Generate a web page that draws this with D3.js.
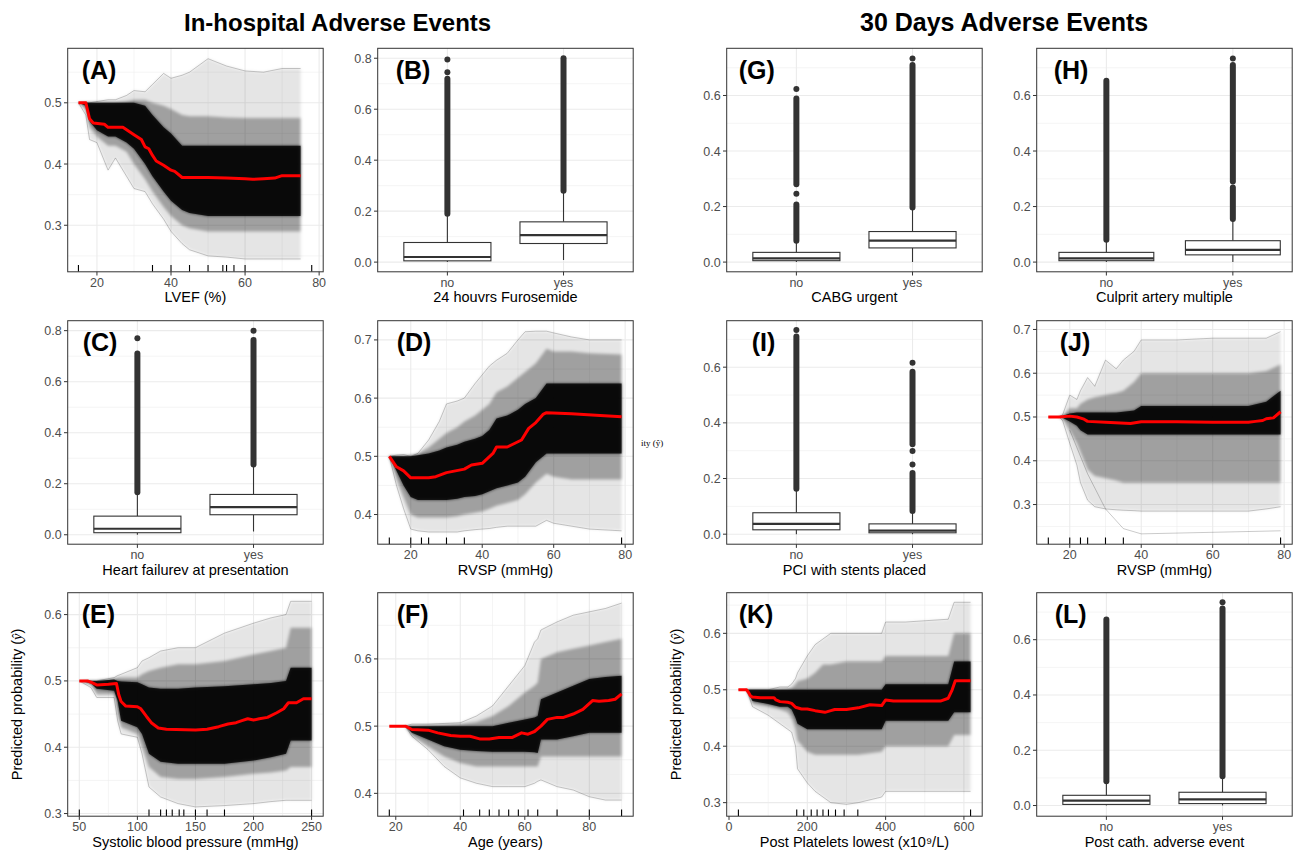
<!DOCTYPE html>
<html>
<head>
<meta charset="utf-8">
<script src="https://cdn.jsdelivr.net/npm/d3@7"></script>
<style>
  body { margin: 0; background: #fff; }
  text { font-family: "Liberation Sans", Arial, sans-serif; }
</style>
</head>
<body>
<div id="chart"></div>
<script>
////////////////// data ////////////////////////////////////

const groupTitles = ["In-hospital Adverse Events", "30 Days Adverse Events"];
const boxCats = ["no", "yes"];

// --- ICE panels: envelopes of the individual curves + red average curve ---
// (A) LVEF
const A_gridX  = [15, 17, 18, 20, 23, 25, 28, 30, 33, 35, 38, 40, 43, 45, 50, 55, 60, 65, 70, 75];
const A_max    = [.5, .5, .5, .502, .505, .505, .512, .52, .518, .53, .548, .54, .545, .55, .572, .56, .552, .55, .556, .556];
const A_upMid  = [.5, .5, .5, .5, .5, .5, .502, .505, .505, .5, .495, .49, .48, .478, .478, .476, .475, .475, .475, .475];
const A_upCore = [.5, .5, .5, .5, .5, .5, .5, .5, .495, .48, .46, .45, .43, .43, .43, .43, .43, .43, .43, .43];
const A_loCore = [.5, .495, .47, .455, .445, .445, .435, .425, .4, .38, .355, .34, .325, .32, .315, .315, .315, .315, .315, .315];
const A_loMid  = [.5, .49, .46, .445, .43, .43, .42, .4, .375, .355, .33, .315, .3, .295, .29, .29, .29, .29, .29, .29];
const A_min    = [.5, .48, .44, .435, .39, .41, .38, .36, .355, .335, .31, .29, .27, .26, .25, .248, .245, .245, .245, .245];
const A_redX   = [15, 17, 18, 19, 22, 23, 27, 30, 32, 33, 34, 35, 36, 38, 40, 41, 43, 50, 55, 60, 62, 65, 68, 70, 75];
const A_red    = [.5, .5, .474, .467, .465, .46, .46, .448, .44, .428, .425, .414, .405, .398, .39, .388, .378, .378, .377, .376, .375, .376, .377, .381, .381];
const A_rug    = [15, 35, 40, 45, 50, 54, 55, 57, 60, 78];

// (D) RVSP, in-hospital
const D_gridX  = [14, 16, 18, 20, 22, 25, 28, 30, 33, 35, 38, 40, 42, 44, 47, 50, 52, 55, 58, 60, 65, 70, 79];
const D_max    = [.5, .502, .503, .5, .505, .528, .56, .59, .595, .6, .625, .64, .655, .665, .677, .7, .714, .715, .715, .712, .705, .7, .7];
const D_upMid  = [.5, .5, .5, .502, .505, .515, .53, .54, .55, .56, .57, .58, .59, .61, .62, .635, .645, .66, .685, .68, .68, .677, .675];
const D_upCore = [.5, .5, .5, .5, .502, .505, .51, .515, .52, .525, .53, .535, .545, .565, .57, .58, .59, .6, .625, .625, .625, .625, .625];
const D_loCore = [.5, .475, .45, .43, .425, .425, .425, .425, .427, .43, .432, .435, .44, .445, .45, .455, .465, .49, .505, .505, .505, .505, .505];
const D_loMid  = [.5, .46, .43, .4, .395, .395, .395, .395, .397, .4, .403, .405, .41, .415, .42, .425, .435, .455, .47, .465, .46, .46, .46];
const D_min    = [.5, .45, .41, .375, .372, .37, .37, .37, .37, .372, .374, .375, .376, .378, .38, .38, .38, .38, .39, .385, .38, .375, .372];
const D_redX   = [14, 16, 18, 20, 25, 27, 30, 35, 37, 40, 43, 44, 47, 49, 51, 53, 55, 57, 58, 65, 73, 79];
const D_red    = [.5, .482, .475, .463, .463, .465, .472, .478, .485, .488, .505, .516, .516, .522, .528, .548, .558, .572, .575, .573, .57, .568];
const D_rug    = [14, 20, 23, 25, 30, 35, 79];

// (E) Systolic blood pressure
const E_gridX  = [50, 60, 65, 80, 83, 86, 100, 104, 110, 120, 135, 150, 175, 200, 215, 228, 232, 250];
const E_max    = [.5, .5, .5, .505, .508, .51, .52, .53, .535, .545, .55, .55, .572, .587, .595, .6, .62, .62];
const E_upMid  = [.5, .5, .5, .503, .505, .505, .505, .51, .515, .52, .525, .525, .53, .54, .545, .55, .58, .58];
const E_upCore = [.5, .5, .5, .502, .5, .499, .498, .495, .49, .488, .488, .49, .492, .495, .497, .5, .52, .52];
const E_loCore = [.5, .497, .488, .485, .47, .44, .43, .42, .39, .378, .375, .375, .375, .38, .385, .39, .41, .41];
const E_loMid  = [.5, .495, .48, .48, .45, .43, .42, .4, .37, .355, .352, .352, .355, .36, .362, .365, .37, .37];
const E_min    = [.5, .49, .475, .475, .44, .42, .415, .39, .34, .325, .315, .31, .312, .315, .318, .32, .32, .32];
const E_redX   = [50, 57, 60, 65, 75, 82, 84, 86, 90, 100, 103, 108, 112, 118, 125, 150, 160, 170, 178, 185, 190, 195, 200, 205, 212, 220, 226, 230, 237, 240, 243, 250];
const E_red    = [.5, .5, .498, .494, .495, .496, .479, .469, .462, .461, .458, .446, .437, .429, .427, .426, .427, .431, .435, .437, .44, .443, .441, .443, .445, .452, .458, .467, .467, .47, .473, .473];
const E_rug    = [50, 110, 120, 125, 130, 136, 140, 150, 160, 175, 250];

// (F) Age
const F_gridX  = [18, 23, 25, 30, 35, 40, 45, 50, 55, 60, 63, 64, 65, 70, 75, 80, 85, 90];
const F_max    = [.5, .5, .503, .503, .504, .505, .515, .53, .56, .59, .625, .63, .643, .655, .665, .67, .675, .683];
const F_upMid  = [.5, .5, .5, .501, .502, .503, .506, .515, .53, .55, .56, .565, .6, .61, .615, .62, .625, .63];
const F_upCore = [.5, .5, .5, .5, .5, .5, .5, .5, .505, .51, .513, .515, .54, .55, .56, .57, .573, .575];
const F_loCore = [.5, .5, .49, .48, .47, .465, .463, .462, .462, .462, .461, .46, .48, .48, .485, .49, .49, .49];
const F_loMid  = [.5, .5, .485, .47, .455, .445, .44, .44, .44, .44, .44, .44, .455, .455, .455, .455, .455, .455];
const F_min    = [.5, .5, .485, .465, .44, .423, .415, .41, .41, .41, .415, .418, .42, .41, .405, .395, .39, .39];
const F_redX   = [18, 23, 25, 30, 33, 37, 40, 43, 46, 49, 52, 56, 59, 61, 63, 65, 67, 70, 72, 75, 78, 81, 83, 86, 88, 90];
const F_red    = [.5, .5, .495, .494, .49, .486, .485, .485, .481, .481, .483, .483, .49, .488, .492, .5, .51, .513, .513, .518, .525, .538, .537, .538, .54, .548];
const F_rug    = [18, 41, 46, 49, 52, 55, 58, 61, 64, 70, 80, 90];

// (J) RVSP, 30 days
const J_gridX  = [14, 17, 18, 20, 22, 23, 25, 27, 30, 33, 35, 38, 40, 45, 50, 60, 70, 75, 79];
const J_max    = [.5, .5, .505, .55, .54, .56, .59, .57, .63, .61, .63, .65, .676, .676, .676, .68, .68, .68, .695];
const J_upMid  = [.5, .5, .502, .52, .52, .53, .54, .545, .55, .555, .56, .58, .6, .6, .6, .6, .6, .605, .62];
const J_upCore = [.5, .5, .502, .508, .51, .51, .51, .51, .51, .51, .512, .515, .525, .525, .525, .525, .525, .535, .56];
const J_loCore = [.5, .5, .498, .49, .48, .47, .46, .46, .46, .46, .46, .46, .46, .46, .46, .46, .46, .46, .46];
const J_loMid  = [.5, .5, .495, .47, .44, .42, .38, .365, .36, .355, .35, .35, .35, .35, .35, .35, .35, .35, .35];
const J_min    = [.5, .5, .492, .44, .39, .35, .31, .295, .29, .288, .287, .286, .285, .285, .285, .285, .285, .29, .295];
const J_lowX   = [20, 25, 30, 35, 40, 79];
const J_low    = [.47, .37, .29, .245, .233, .24];
const J_redX   = [14, 17, 20, 22, 24, 25, 30, 37, 40, 50, 60, 70, 72, 74, 75, 77, 79];
const J_red    = [.5, .5, .502, .5, .495, .49, .488, .485, .489, .489, .488, .488, .49, .492, .496, .498, .512];
const J_rug    = [14, 20, 23, 25, 30, 35, 79];

// (K) Post platelets lowest
const K_gridX  = [24, 45, 60, 100, 130, 150, 160, 170, 175, 200, 220, 240, 260, 300, 330, 390, 400, 450, 560, 575, 617];
const K_max    = [.5, .5, .5, .5, .505, .505, .51, .52, .53, .56, .58, .59, .6, .6, .6, .6, .62, .62, .625, .655, .655];
const K_upMid  = [.5, .5, .5, .5, .501, .502, .503, .51, .515, .52, .53, .545, .545, .55, .55, .55, .56, .56, .56, .6, .6];
const K_upCore = [.5, .5, .5, .5, .5, .5, .5, .5, .5, .5, .5, .5, .5, .5, .5, .5, .51, .51, .51, .55, .55];
const K_loCore = [.5, .5, .48, .475, .47, .47, .465, .45, .44, .43, .43, .43, .43, .43, .43, .43, .445, .445, .445, .46, .46];
const K_loMid  = [.5, .5, .475, .47, .465, .46, .45, .43, .41, .39, .385, .385, .385, .385, .385, .39, .4, .4, .4, .42, .42];
const K_min    = [.5, .5, .47, .455, .44, .43, .425, .4, .36, .335, .32, .31, .3, .297, .3, .31, .32, .32, .32, .32, .32];
const K_redX   = [24, 45, 50, 55, 60, 80, 115, 120, 130, 150, 160, 170, 185, 200, 220, 245, 260, 270, 300, 330, 360, 390, 400, 420, 540, 560, 570, 578, 617];
const K_red    = [.5, .5, .495, .489, .487, .486, .486, .482, .479, .478, .476, .469, .466, .466, .463, .46, .463, .465, .465, .468, .4735, .472, .482, .48, .48, .485, .5, .516, .516];
const K_rug    = [24, 173, 191, 210, 225, 240, 254, 272, 294, 329, 617];

// --- box plots: [lower whisker, Q1, median, Q3, upper whisker], outlier runs, single outliers ---
const B_stats = [[0.0, 0.005, 0.02, 0.077, 0.185], [0.008, 0.073, 0.106, 0.158, 0.274]];
const B_runs  = [[[0.19, 0.72]], [[0.28, 0.80]]];
const B_pts   = [[0.745, 0.795], []];
const C_stats = [[0.0, 0.008, 0.0235, 0.073, 0.165], [0.013, 0.0785, 0.108, 0.158, 0.27]];
const C_runs  = [[[0.167, 0.71]], [[0.275, 0.763]]];
const C_pts   = [[0.77], [0.80]];
const G_stats = [[0.0, 0.005, 0.013, 0.035, 0.075], [0.0, 0.051, 0.077, 0.11, 0.195]];
const G_runs  = [[[0.077, 0.207], [0.28, 0.589]], [[0.197, 0.71]]];
const G_pts   = [[0.246, 0.623], [0.733]];
const H_stats = [[0.0, 0.005, 0.013, 0.035, 0.078], [0.0, 0.026, 0.044, 0.077, 0.153]];
const H_runs  = [[[0.08, 0.653]], [[0.155, 0.269], [0.29, 0.71]]];
const H_pts   = [[], [0.733]];
const I_stats = [[0.0, 0.0157, 0.037, 0.077, 0.16], [0.0, 0.005, 0.013, 0.037, 0.082]];
const I_runs  = [[[0.163, 0.71]], [[0.083, 0.22], [0.323, 0.584]]];
const I_pts   = [[0.734], [0.25, 0.299, 0.616]];
const L_stats = [[0.0, 0.004, 0.018, 0.037, 0.085], [0.0, 0.007, 0.022, 0.048, 0.103]];
const L_runs  = [[[0.088, 0.673]], [[0.106, 0.713]]];
const L_pts   = [[], [0.735]];

const xTitles = {
  A: "LVEF (%)", B: "24 houvrs Furosemide", C: "Heart failurev at presentation",
  D: "RVSP (mmHg)", E: "Systolic blood pressure (mmHg)", F: "Age (years)",
  G: "CABG urgent", H: "Culprit artery multiple", I: "PCI with stents placed",
  J: "RVSP (mmHg)", K: "Post Platelets lowest (x10\u2079/L)", L: "Post cath. adverse event"
};

////////////////// layout ////////////////////////////////////

const W = 1293, H = 851;
const colX = [67.7, 377.7, 726.7, 1036.7];
const rowY = [48.3, 320.7, 592.7];
const pw = 255.5, ph = 223.5;

const ice = {
  A: {x: A_gridX, max: A_max, upMid: A_upMid, upCore: A_upCore, loCore: A_loCore, loMid: A_loMid, min: A_min, redX: A_redX, red: A_red, rug: A_rug},
  D: {x: D_gridX, max: D_max, upMid: D_upMid, upCore: D_upCore, loCore: D_loCore, loMid: D_loMid, min: D_min, redX: D_redX, red: D_red, rug: D_rug},
  E: {x: E_gridX, max: E_max, upMid: E_upMid, upCore: E_upCore, loCore: E_loCore, loMid: E_loMid, min: E_min, redX: E_redX, red: E_red, rug: E_rug},
  F: {x: F_gridX, max: F_max, upMid: F_upMid, upCore: F_upCore, loCore: F_loCore, loMid: F_loMid, min: F_min, redX: F_redX, red: F_red, rug: F_rug},
  J: {x: J_gridX, max: J_max, upMid: J_upMid, upCore: J_upCore, loCore: J_loCore, loMid: J_loMid, min: J_min, redX: J_redX, red: J_red, rug: J_rug, extraX: J_lowX, extra: J_low},
  K: {x: K_gridX, max: K_max, upMid: K_upMid, upCore: K_upCore, loCore: K_loCore, loMid: K_loMid, min: K_min, redX: K_redX, red: K_red, rug: K_rug}
};
const boxes = {
  B: {stats: B_stats, runs: B_runs, pts: B_pts},
  C: {stats: C_stats, runs: C_runs, pts: C_pts},
  G: {stats: G_stats, runs: G_runs, pts: G_pts},
  H: {stats: H_stats, runs: H_runs, pts: H_pts, pad: 0.51, align: 0.54},
  I: {stats: I_stats, runs: I_runs, pts: I_pts},
  L: {stats: L_stats, runs: L_runs, pts: L_pts}
};

// panel placement, axis limits and tick breaks
const panels = [
  {id: "A", col: 0, row: 0, xd: [12.1, 81.1],  yd: [0.224, 0.589], xt: [20, 40, 60, 80], yt: [0.3, 0.4, 0.5], ldx: 14},
  {id: "B", col: 1, row: 0, yd: [-0.038, 0.839], yt: [0, 0.2, 0.4, 0.6, 0.8], ldx: 18},
  {id: "C", col: 0, row: 1, yd: [-0.037, 0.839], yt: [0, 0.2, 0.4, 0.6, 0.8], ldx: 15},
  {id: "D", col: 1, row: 1, xd: [10.75, 82.25], yd: [0.349, 0.733], xt: [20, 40, 60, 80], yt: [0.4, 0.5, 0.6, 0.7], ldx: 19},
  {id: "E", col: 0, row: 2, xd: [40, 260], yd: [0.296, 0.633], xt: [50, 100, 150, 200, 250], yt: [0.3, 0.4, 0.5, 0.6], ldx: 14, ylab: true},
  {id: "F", col: 1, row: 2, xd: [14.4, 93.6], yd: [0.366, 0.6985], xt: [20, 40, 60, 80], yt: [0.4, 0.5, 0.6], ldx: 19},
  {id: "G", col: 2, row: 0, yd: [-0.035, 0.77], yt: [0, 0.2, 0.4, 0.6], ldx: 12},
  {id: "H", col: 3, row: 0, yd: [-0.035, 0.77], yt: [0, 0.2, 0.4, 0.6], ldx: 17},
  {id: "I", col: 2, row: 1, yd: [-0.036, 0.767], yt: [0, 0.2, 0.4, 0.6], ldx: 25},
  {id: "J", col: 3, row: 1, xd: [10.75, 82.25], yd: [0.2094, 0.72], xt: [20, 40, 60, 80], yt: [0.3, 0.4, 0.5, 0.6, 0.7], ldx: 23},
  {id: "K", col: 2, row: 2, xd: [-5.9, 646.7], yd: [0.276, 0.672], xt: [0, 200, 400, 600], yt: [0.3, 0.4, 0.5, 0.6], ldx: 12, ylab: true},
  {id: "L", col: 3, row: 2, yd: [-0.0386, 0.77], yt: [0, 0.2, 0.4, 0.6], ldx: 18}
];

const svg = d3.select("#chart").append("svg")
              .attr("width", W).attr("height", H)
              .style("display", "block");

// soft edge for the translucent bundles of curves
const defs = svg.append("defs");
defs.append("filter").attr("id", "soft").attr("x", "-5%").attr("y", "-5%")
    .attr("width", "110%").attr("height", "110%")
    .append("feGaussianBlur").attr("stdDeviation", 1.8);

// group titles
svg.append("text").attr("x", 184).attr("y", 31)
   .style("font-size", "24px").style("font-weight", "bold").text(groupTitles[0]);
svg.append("text").attr("x", 860).attr("y", 31)
   .style("font-size", "25px").style("font-weight", "bold").text(groupTitles[1]);

// minor breaks = midpoints of majors extended one step each side
function minors(ticks, dom) {
  const st = ticks[1] - ticks[0];
  const ext = [ticks[0] - st, ...ticks, ticks[ticks.length - 1] + st];
  const out = [];
  for (let i = 0; i < ext.length - 1; i++) {
    const m = (ext[i] + ext[i + 1]) / 2;
    if (m > dom[0] && m < dom[1]) out.push(m);
  }
  return out;
}

panels.forEach(drawPanel);

function drawPanel(p) {
  const x0 = colX[p.col], y0 = rowY[p.row];
  const g = svg.append("g").attr("transform", `translate(${x0},${y0})`);
  const y = d3.scaleLinear().domain(p.yd).range([ph, 0]);
  const isIce = !!ice[p.id];
  let x, bw;
  if (isIce) {
    x = d3.scaleLinear().domain(p.xd).range([0, pw]);
  } else {
    const b = boxes[p.id];
    x = d3.scalePoint().domain(boxCats).range([0, pw])
          .padding(b.pad || 0.6).align(b.align || 0.5);
    bw = x.step() * 0.75;
  }

  // grid
  const gy = g.append("g");
  minors(p.yt, p.yd).forEach(v => gy.append("line").attr("x1", 0).attr("x2", pw)
      .attr("y1", y(v)).attr("y2", y(v)).attr("stroke", "#EBEBEB").attr("stroke-width", 0.55));
  if (isIce) {
    minors(p.xt, p.xd).forEach(v => gy.append("line").attr("y1", 0).attr("y2", ph)
        .attr("x1", x(v)).attr("x2", x(v)).attr("stroke", "#EBEBEB").attr("stroke-width", 0.55));
  }
  p.yt.forEach(v => gy.append("line").attr("x1", 0).attr("x2", pw)
      .attr("y1", y(v)).attr("y2", y(v)).attr("stroke", "#EBEBEB").attr("stroke-width", 1.1));
  const xMajors = isIce ? p.xt.map(v => x(v)) : boxCats.map(c => x(c));
  xMajors.forEach(px => gy.append("line").attr("y1", 0).attr("y2", ph)
      .attr("x1", px).attr("x2", px).attr("stroke", "#EBEBEB").attr("stroke-width", 1.1));

  // clip
  const cid = "clip" + p.id;
  defs.append("clipPath").attr("id", cid).append("rect").attr("width", pw).attr("height", ph);
  const body = g.append("g").attr("clip-path", `url(#${cid})`);

  if (isIce) drawIce(body, ice[p.id], x, y);
  else drawBoxes(body, boxes[p.id], x, y, bw);

  // border
  g.append("rect").attr("width", pw).attr("height", ph)
   .attr("fill", "none").attr("stroke", "#333").attr("stroke-width", 1);

  // y axis
  const fmt = d3.format(".1f");
  p.yt.forEach(v => {
    g.append("line").attr("x1", -3.7).attr("x2", 0).attr("y1", y(v)).attr("y2", y(v))
     .attr("stroke", "#333").attr("stroke-width", 1);
    g.append("text").attr("x", -6).attr("y", y(v)).attr("dy", "0.36em")
     .attr("text-anchor", "end").style("font-size", "12.5px").style("fill", "#4D4D4D")
     .text(fmt(v));
  });
  // x axis
  const xLabs = isIce ? p.xt.map(v => [x(v), String(v)]) : boxCats.map(c => [x(c), c]);
  xLabs.forEach(([px, t]) => {
    g.append("line").attr("x1", px).attr("x2", px).attr("y1", ph).attr("y2", ph + 3.7)
     .attr("stroke", "#333").attr("stroke-width", 1);
    g.append("text").attr("x", px).attr("y", ph + 15).attr("text-anchor", "middle")
     .style("font-size", "12.5px").style("fill", "#4D4D4D").text(t);
  });
  g.append("text").attr("x", pw / 2).attr("y", ph + 30.5).attr("text-anchor", "middle")
   .style("font-size", "14.5px").style("fill", "#000").text(xTitles[p.id]);

  if (p.ylab) {
    const t = g.append("text").attr("transform", `translate(-46,${ph / 2}) rotate(-90)`)
               .attr("text-anchor", "middle").style("font-size", "14.5px");
    t.append("tspan").text("Predicted probability (");
    t.append("tspan").style("font-family", "'Liberation Serif', 'DejaVu Serif', serif")
     .style("font-style", "italic").text("\u0177");
    t.append("tspan").text(")");
  }

  // panel tag
  g.append("text").attr("x", p.ldx).attr("y", 30.5)
   .style("font-size", "25px").style("font-weight", "bold").text(`(${p.id})`);
}

function drawIce(body, d, x, y) {
  const rows = d.x.map((v, i) => ({x: v, max: d.max[i], upMid: d.upMid[i], upCore: d.upCore[i],
                                   loCore: d.loCore[i], loMid: d.loMid[i], min: d.min[i]}));
  const soft = body.append("g").attr("filter", "url(#soft)");
  const band = (tgt, lo, hi, op) => tgt.append("path").datum(rows)
      .attr("d", d3.area().x(r => x(r.x)).y0(r => y(r[lo])).y1(r => y(r[hi])))
      .attr("fill", "#000").attr("fill-opacity", op);
  const edge = (key, op) => body.append("path").datum(rows)
      .attr("d", d3.line().x(r => x(r.x)).y(r => y(r[key])))
      .attr("fill", "none").attr("stroke", "#000").attr("stroke-opacity", op).attr("stroke-width", 0.7);

  band(soft, "min", "max", 0.1);
  band(soft, "loMid", "upMid", 0.3);
  band(soft, "loCore", "upCore", 0.7);
  band(body, "loCore", "upCore", 0.8);
  edge("max", 0.3);
  edge("min", 0.3);
  if (d.extra) {
    body.append("path").datum(d.extraX.map((v, i) => [v, d.extra[i]]))
        .attr("d", d3.line().x(r => x(r[0])).y(r => y(r[1])))
        .attr("fill", "none").attr("stroke", "#000").attr("stroke-opacity", 0.3).attr("stroke-width", 0.7);
  }
  // rug
  d.rug.forEach(v => body.append("line").attr("x1", x(v)).attr("x2", x(v))
      .attr("y1", ph).attr("y2", ph - 6.7).attr("stroke", "#000").attr("stroke-width", 1.1));
  // average curve
  body.append("path").datum(d.redX.map((v, i) => [v, d.red[i]]))
      .attr("d", d3.line().x(r => x(r[0])).y(r => y(r[1])))
      .attr("fill", "none").attr("stroke", "#FF0000").attr("stroke-width", 3)
      .attr("stroke-linejoin", "round");
}

function drawBoxes(body, b, x, y, bw) {
  boxCats.forEach((c, i) => {
    const cx = x(c), s = b.stats[i];
    // outliers
    b.runs[i].forEach(r => body.append("line").attr("x1", cx).attr("x2", cx)
        .attr("y1", y(r[0])).attr("y2", y(r[1]))
        .attr("stroke", "#333").attr("stroke-width", 6).attr("stroke-linecap", "round"));
    b.pts[i].forEach(v => body.append("circle").attr("cx", cx).attr("cy", y(v)).attr("r", 3)
        .attr("fill", "#333"));
    // whiskers
    body.append("line").attr("x1", cx).attr("x2", cx).attr("y1", y(s[0])).attr("y2", y(s[1]))
        .attr("stroke", "#333").attr("stroke-width", 1.1);
    body.append("line").attr("x1", cx).attr("x2", cx).attr("y1", y(s[3])).attr("y2", y(s[4]))
        .attr("stroke", "#333").attr("stroke-width", 1.1);
    // box
    body.append("rect").attr("x", cx - bw / 2).attr("width", bw)
        .attr("y", y(s[3])).attr("height", y(s[1]) - y(s[3]))
        .attr("fill", "#fff").attr("stroke", "#333").attr("stroke-width", 1.1);
    body.append("line").attr("x1", cx - bw / 2).attr("x2", cx + bw / 2)
        .attr("y1", y(s[2])).attr("y2", y(s[2])).attr("stroke", "#333").attr("stroke-width", 2.2);
  });
}

// stray cropped label fragment between the two column groups
svg.append("text").attr("x", 641).attr("y", 446)
   .style("font-family", "'Liberation Serif', 'DejaVu Serif', serif").style("font-size", "9px")
   .text("ity (\u0177)");
</script>
</body>
</html>
